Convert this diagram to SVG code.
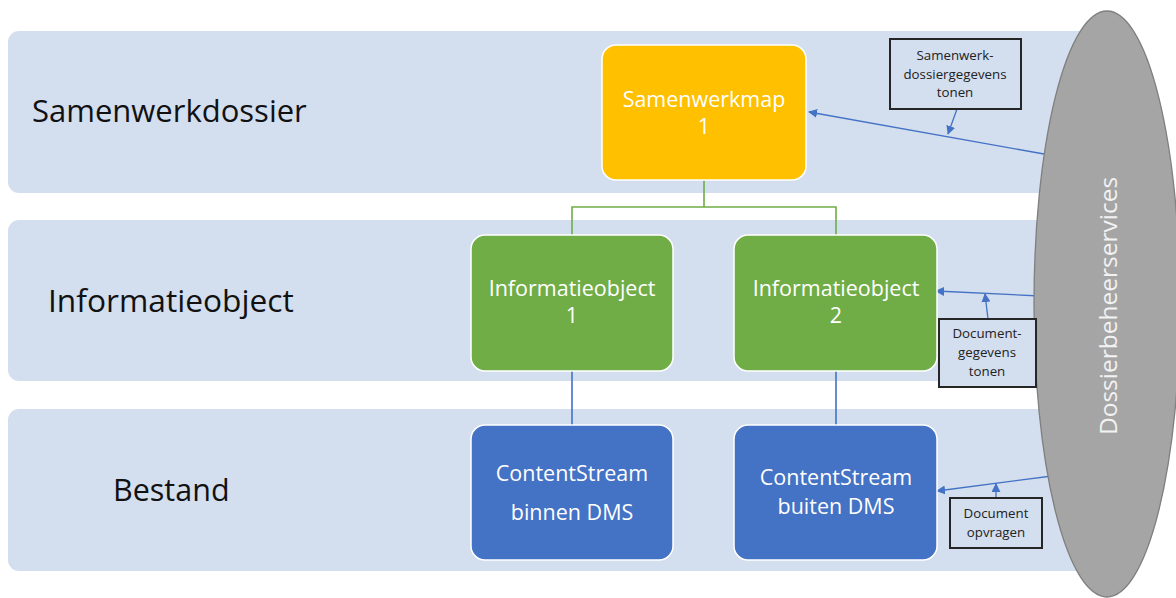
<svg xmlns="http://www.w3.org/2000/svg" width="1176" height="598" viewBox="0 0 1176 598">
  <style>
    .band { fill: #D3DEEF; }
    .lane { font-family: "Open Sans", "Liberation Sans", sans-serif; fill: #111; }
    .box { stroke: #FFFFFF; stroke-width: 1.5; }
    .boxtxt { font-family: "Open Sans", "Liberation Sans", sans-serif; font-size: 21.5px; fill: #FFFFFF; text-anchor: middle; }
    .note { fill: #D3DEEF; stroke: #262626; stroke-width: 2; }
    .notetxt { font-family: "Open Sans", "Liberation Sans", sans-serif; font-size: 13.3px; fill: #222; text-anchor: middle; }
    .tree-g { fill: none; stroke: #70AD47; stroke-width: 1.6; }
    .tree-b { fill: none; stroke: #4472C4; stroke-width: 1.6; }
    .flow { fill: none; stroke: #4472C4; stroke-width: 1.3; marker-end: url(#arr); }
  </style>
  <defs>
    <marker id="arr" viewBox="0 0 10 10" refX="9" refY="5" markerWidth="9" markerHeight="9" markerUnits="userSpaceOnUse" orient="auto">
      <path d="M0,0 L10,5 L0,10 z" fill="#4472C4"/>
    </marker>
  </defs>

  <rect width="1176" height="598" fill="#FFFFFF"/>

  <!-- layer bands -->
  <g id="lanes">
    <rect class="band" x="8" y="31" width="1100" height="162" rx="11"/>
    <rect class="band" x="8" y="220" width="1100" height="161" rx="11"/>
    <rect class="band" x="8" y="409" width="1100" height="162" rx="11"/>
    <text class="lane" x="32" y="122" font-size="31">Samenwerkdossier</text>
    <text class="lane" x="48" y="312" font-size="31.7">Informatieobject</text>
    <text class="lane" x="113" y="501" font-size="30.5">Bestand</text>
  </g>

  <!-- hierarchy and service connectors -->
  <g id="connectors">
    <path class="tree-g" d="M704,180 V207 H572 V235 M704,207 H836 V235"/>
    <path class="tree-b" d="M572,371 V425 M836,371 V425"/>
    <path class="flow" d="M1044,154 L809,112"/>
    <path class="flow" d="M957,109 L948,134"/>
    <path class="flow" d="M1040,296 L936,291"/>
    <path class="flow" d="M988,319 L985,294"/>
    <path class="flow" d="M1052,476 L937,491"/>
    <path class="flow" d="M996,498 L996,484"/>
  </g>

  <g id="samenwerkmap">
    <rect class="box" x="602" y="45" width="204" height="135" rx="14" fill="#FFC000"/>
    <text class="boxtxt" x="704" y="107">Samenwerkmap</text>
    <text class="boxtxt" x="704" y="134">1</text>
  </g>

  <g id="informatieobject1">
    <rect class="box" x="471" y="235" width="202" height="136" rx="14" fill="#70AD47"/>
    <text class="boxtxt" x="572" y="296">Informatieobject</text>
    <text class="boxtxt" x="572" y="323">1</text>
  </g>

  <g id="informatieobject2">
    <rect class="box" x="734" y="235" width="203" height="136" rx="14" fill="#70AD47"/>
    <text class="boxtxt" x="836" y="296">Informatieobject</text>
    <text class="boxtxt" x="836" y="323">2</text>
  </g>

  <g id="contentstream1">
    <rect class="box" x="471" y="425" width="202" height="135" rx="14" fill="#4472C4"/>
    <text class="boxtxt" x="572" y="481">ContentStream</text>
    <text class="boxtxt" x="572" y="520">binnen DMS</text>
  </g>

  <g id="contentstream2">
    <rect class="box" x="734" y="425" width="203" height="135" rx="14" fill="#4472C4"/>
    <text class="boxtxt" x="836" y="485">ContentStream</text>
    <text class="boxtxt" x="836" y="514">buiten DMS</text>
  </g>

  <g id="dossierbeheerservices">
    <ellipse cx="1107" cy="304" rx="73" ry="293" fill="#A5A5A5" stroke="#7F7F7F" stroke-width="1.3"/>
    <text transform="translate(1117,306) rotate(-90)" font-family="'Open Sans', 'Liberation Sans', sans-serif" font-size="24.5" fill="#F2F2F2" text-anchor="middle">Dossierbeheerservices</text>
  </g>

  <g id="note-samenwerkdossier">
    <rect class="note" x="890" y="39" width="131" height="70"/>
    <text class="notetxt" x="955" y="60">Samenwerk-</text>
    <text class="notetxt" x="955" y="79">dossiergegevens</text>
    <text class="notetxt" x="955" y="97">tonen</text>
  </g>

  <g id="note-documentgegevens">
    <rect class="note" x="939" y="319" width="97" height="68"/>
    <text class="notetxt" x="987" y="338">Document-</text>
    <text class="notetxt" x="987" y="357">gegevens</text>
    <text class="notetxt" x="987" y="376">tonen</text>
  </g>

  <g id="note-documentopvragen">
    <rect class="note" x="950" y="498" width="92" height="50"/>
    <text class="notetxt" x="996" y="518">Document</text>
    <text class="notetxt" x="996" y="537">opvragen</text>
  </g>
</svg>
